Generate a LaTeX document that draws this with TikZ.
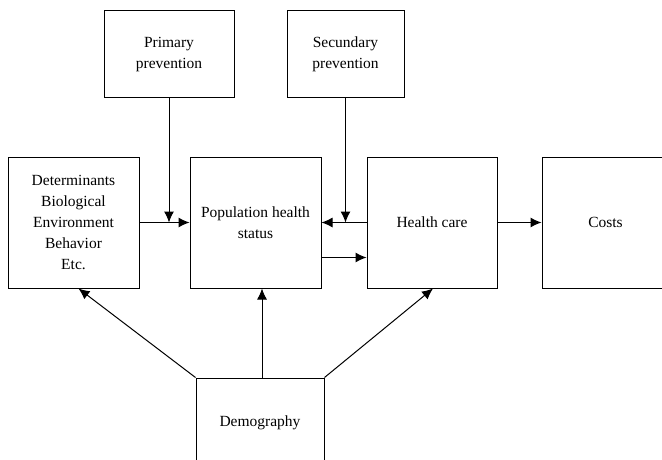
\documentclass[tikz,border=0pt]{standalone}
\usepackage{fontspec}
\setmainfont{Liberation Serif}
\usetikzlibrary{arrows.meta}
\begin{document}
\begin{tikzpicture}[x=1pt,y=-1pt,
  box/.style={draw,line width=1pt,rectangle,inner sep=0pt,align=center,
    font=\fontsize{15.5}{21}\selectfont},
  arr/.style={line width=1pt,-{Latex[length=11pt,width=10pt]}}]
\useasboundingbox (0,0) rectangle (662,460);
\node[box,minimum width=131pt,minimum height=131pt] (det) at (73.5,222.5)
  {Determinants\\Biological\\Environment\\Behavior\\Etc.};
\node[box,minimum width=131pt,minimum height=131pt] (pop) at (255.5,222.5)
  {Population health\\status};
\node[box,minimum width=130pt,minimum height=131pt] (hc) at (432,222.5) {Health care};
\node[box,minimum width=127pt,minimum height=131pt] (cost) at (605.5,222.5) {Costs};
\node[box,minimum width=130pt,minimum height=87pt] (prim) at (169,54.5) {Primary\\prevention};
\node[box,minimum width=117pt,minimum height=87pt] (sec) at (345.5,54.5) {Secundary\\prevention};
\node[box,minimum width=128pt,minimum height=90pt] (demo) at (260,423) {Demography};
\draw[arr] (det.east) -- (pop.west);
\draw[arr] (prim.south) -- (prim.south |- det.east);
\draw[arr] (hc.west) -- (pop.east);
\draw[arr] (sec.south) -- (sec.south |- hc.west);
\draw[arr] ([yshift=-35pt]pop.east) coordinate (p1) -- (p1 -| hc.west);
\draw[arr] (hc.east) -- (cost.west);
\draw[arr] (demo.north west) -- ([xshift=5pt]det.south);
\draw[arr] ([xshift=2pt]demo.north) coordinate (d1) -- (d1 |- pop.south);
\draw[arr] (demo.north east) -- ([xshift=1pt]hc.south);
\end{tikzpicture}
\end{document}
